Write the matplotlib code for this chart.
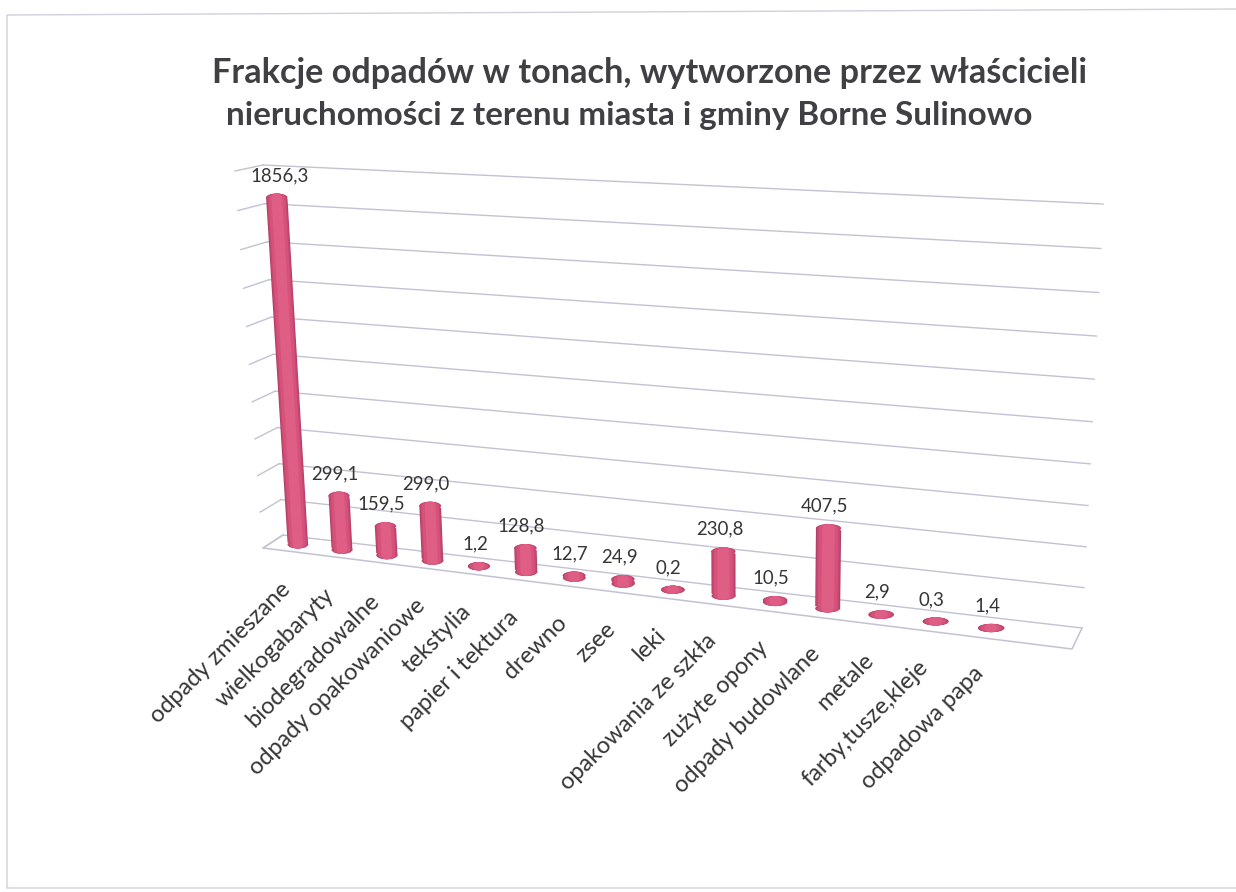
import matplotlib
matplotlib.use("Agg")
import matplotlib.pyplot as plt
import numpy as np
from matplotlib.patches import Ellipse
from matplotlib.transforms import Transform

categories = [
    "odpady zmieszane", "wielkogabaryty", "biodegradowalne", "odpady opakowaniowe",
    "tekstylia", "papier i tektura", "drewno", "zsee", "leki", "opakowania ze szkła",
    "zużyte opony", "odpady budowlane", "metale", "farby,tusze,kleje", "odpadowa papa",
]
values = [1856.3, 299.1, 159.5, 299.0, 1.2, 128.8, 12.7, 24.9, 0.2, 230.8, 10.5, 407.5, 2.9, 0.3, 1.4]
grid_values = [0, 200, 400, 600, 800, 1000, 1200, 1400, 1600, 1800, 2000]
title_lines = [
    "Frakcje odpadów w tonach, wytworzone przez właścicieli",
    "nieruchomości z terenu miasta i gminy Borne Sulinowo",
]

# data range covered by the chart box
X0, X1 = -0.571, 15.51
V0, V1 = 0.0, 2000.0

# where the box corners land on the page: bottom left, bottom right, top left, top right
BACK = [(283, 535), (1082, 628), (263, 165), (1103, 204)]
FRONT = [(263, 548), (1072, 649), (235, 171), (1090, 216)]
MID = [((a[0] + b[0]) / 2, (a[1] + b[1]) / 2) for a, b in zip(BACK, FRONT)]

GRID_COLOR = "#c2c2d4"
TEXT_COLOR = "#353535"
SHADES = [(1.0, "#b03e6c"), (0.92, "#c64871"), (0.78, "#d65279"), (0.5, "#df5e85")]
BAR_WIDTH = 0.47
CAP_PX = 8
TRIM = 4


class Perspective(Transform):
    """Projective map from (category, value) to page pixels."""

    input_dims = 2
    output_dims = 2

    def __init__(self, corners):
        super().__init__()
        src = [(X0, V0), (X1, V0), (X0, V1), (X1, V1)]
        rows, rhs = [], []
        for (x, y), (u, v) in zip(src, corners):
            rows.append([x, y, 1, 0, 0, 0, -u * x, -u * y])
            rows.append([0, 0, 0, x, y, 1, -v * x, -v * y])
            rhs += [u, v]
        self.matrix = np.append(np.linalg.solve(np.array(rows, float), np.array(rhs, float)), 1).reshape(3, 3)

    def transform_non_affine(self, values):
        pts = np.column_stack([values, np.ones(len(values))]) @ self.matrix.T
        return pts[:, :2] / pts[:, 2:]

    def inverted(self):
        raise NotImplementedError


plt.rcParams["font.family"] = ["Lato", "DejaVu Sans"]
fig = plt.figure(figsize=(12.36, 8.92), dpi=100)
ax = fig.add_axes([0, 0, 1, 1])
ax.set_xlim(0, 1236)
ax.set_ylim(892, 0)
ax.axis("off")

back = Perspective(BACK)
front = Perspective(FRONT)
mid = Perspective(MID)
mid_page = mid + ax.transData
back_page = back + ax.transData


def level_disc(pos, val, width, color, zorder):
    # caps stay level on the page, so they are sized in page pixels
    left, centre, right = mid.transform([[pos - width / 2, val], [pos, val], [pos + width / 2, val]])
    ax.add_patch(Ellipse(centre, right[0] - left[0], CAP_PX, color=color, linewidth=0, zorder=zorder))


# scan edge of the page
ax.plot([1236, 7, 7, 1236], [9, 15, 888, 888], color="#d0d0de", lw=1)

# -- walls and floor ----------------------------------------------------------
for g in grid_values:
    ax.plot([X0, X1], [g, g], color=GRID_COLOR, lw=1, transform=back_page)
    side = np.vstack([front.transform([[X0, g]]), back.transform([[X0, g]])])
    ax.plot(side[:, 0], side[:, 1], color=GRID_COLOR, lw=1)
floor = np.vstack([
    back.transform([[X0, 0]]), front.transform([[X0, 0]]),
    front.transform([[X1, 0]]), back.transform([[X1, 0]]),
])
ax.plot(floor[:, 0], floor[:, 1], color=GRID_COLOR, lw=1.1)

# -- cylinders ----------------------------------------------------------------
positions = np.arange(len(values))
vals = np.array(values)
bottoms = np.minimum(vals, TRIM)
tops = np.maximum(bottoms, vals - TRIM)
for k, (scale, color) in enumerate(SHADES):
    z = 3 + k * 0.1
    w = BAR_WIDTH * scale
    ax.bar(positions, tops - bottoms, bottom=bottoms, width=w, color=color, linewidth=0,
           transform=mid_page, zorder=z)
    for pos, val in zip(positions, values):
        level_disc(pos, 0, w, color, z)
        level_disc(pos, val, w, color, z)

# -- texts --------------------------------------------------------------------
for pos, val, name in zip(positions, values, categories):
    dx = 3 if pos == 0 else -4
    ax.annotate(f"{val:.1f}".replace(".", ","), (pos, val), xycoords=mid_page, xytext=(dx, 22),
                textcoords="offset pixels", ha="center", va="center", fontsize=13.4,
                color=TEXT_COLOR, zorder=6)
    ax.annotate(name, (pos, 0), xycoords=mid_page, xytext=(-11, -42), textcoords="offset pixels",
                ha="right", va="center", rotation=45, rotation_mode="anchor", fontsize=17,
                color=TEXT_COLOR, zorder=6)

ax.text(650, 73, title_lines[0], ha="center", va="center", fontsize=24.7, fontweight="bold", color="#3f3f44")
ax.text(629, 116, title_lines[1], ha="center", va="center", fontsize=23.9, fontweight="bold", color="#3f3f44")

fig.savefig("out.png", dpi=100)
